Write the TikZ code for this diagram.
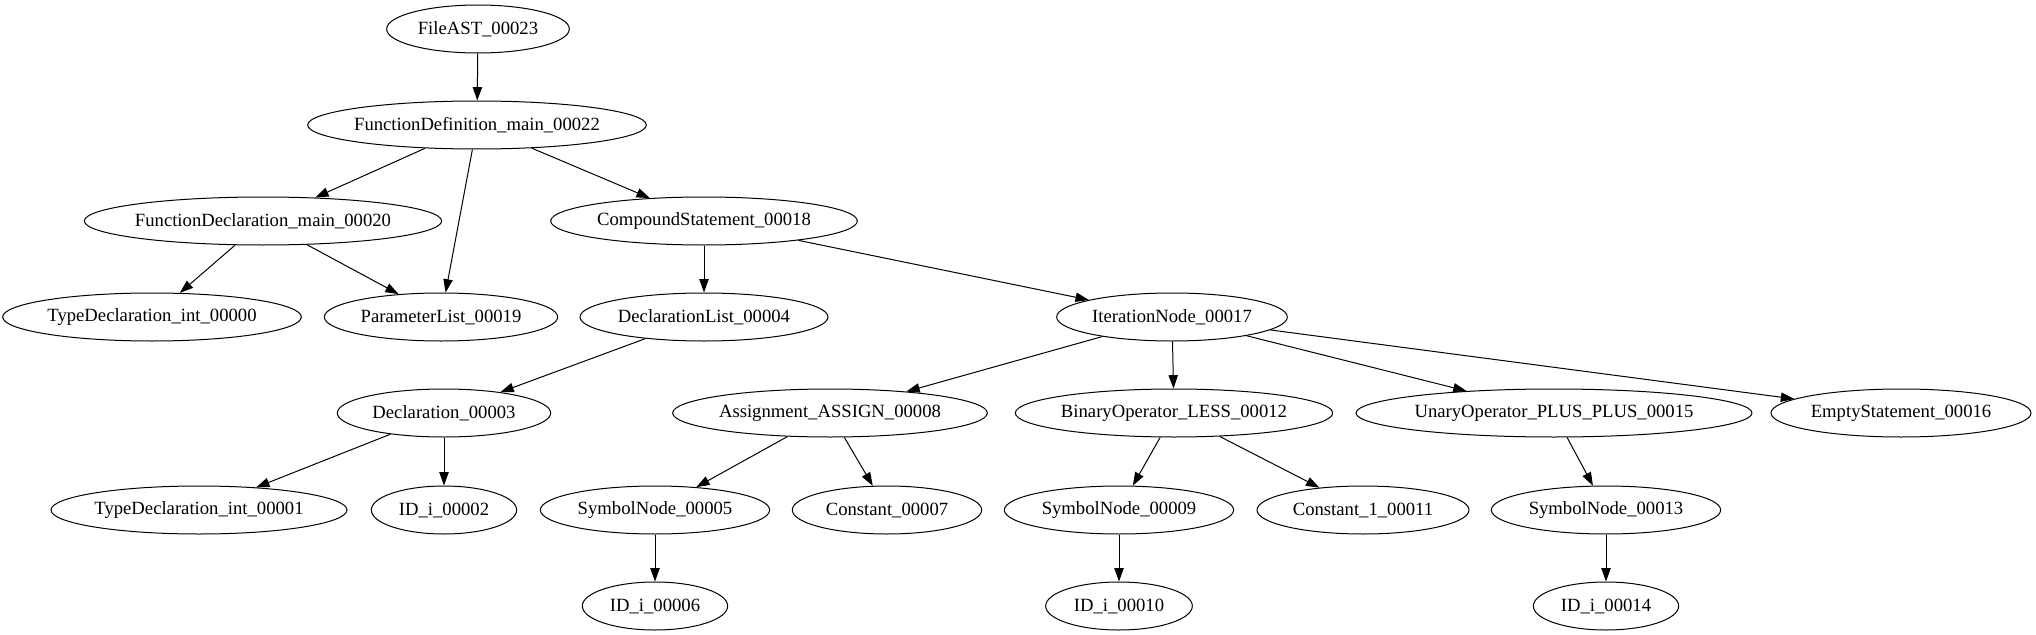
\documentclass[tikz,border=0pt]{standalone}
\usepackage{fontspec}
\setmainfont{Liberation Serif}
\usetikzlibrary{arrows.meta,shapes.geometric}

\begin{document}
\begin{tikzpicture}[x=0.75pt,y=-0.75pt,line width=0.75pt,
	ast_node/.style={ellipse,draw,minimum height=36pt,minimum width=#1,inner sep=0pt,
		font=\fontsize{14}{16}\selectfont,
		execute at begin node={\hbox to 0pt\bgroup\hss},
		execute at end node={\hss\egroup}},
	ast_edge/.style={-{Triangle[length=10pt,width=7pt]}}]
		
		\useasboundingbox (0,0) rectangle (2036,635);
		
		\node[ast_node=137pt] (23) at (478,29) {FileAST\_00023};
		\node[ast_node=254pt] (22) at (477,125) {FunctionDefinition\_main\_00022};
		\node[ast_node=268pt] (20) at (263,221) {FunctionDeclaration\_main\_00020};
		\node[ast_node=230pt] (18) at (704,221) {CompoundStatement\_00018};
		\node[ast_node=224pt] (0) at (152,317) {TypeDeclaration\_int\_00000};
		\node[ast_node=175pt] (19) at (441,317) {ParameterList\_00019};
		\node[ast_node=186pt] (4) at (704,317) {DeclarationList\_00004};
		\node[ast_node=173pt] (17) at (1172,317) {IterationNode\_00017};
		\node[ast_node=160pt] (3) at (444,413) {Declaration\_00003};
		\node[ast_node=236pt] (8) at (830,413) {Assignment\_ASSIGN\_00008};
		\node[ast_node=238pt] (12) at (1174,413) {BinaryOperator\_LESS\_00012};
		\node[ast_node=297pt] (15) at (1554,413) {UnaryOperator\_PLUS\_PLUS\_00015};
		\node[ast_node=195pt] (16) at (1901,413) {EmptyStatement\_00016};
		\node[ast_node=222pt] (1) at (199,510) {TypeDeclaration\_int\_00001};
		\node[ast_node=109pt] (2) at (444,510) {ID\_i\_00002};
		\node[ast_node=172pt] (5) at (655,510) {SymbolNode\_00005};
		\node[ast_node=142pt] (7) at (887,510) {Constant\_00007};
		\node[ast_node=172pt] (9) at (1119,510) {SymbolNode\_00009};
		\node[ast_node=159pt] (11) at (1363,510) {Constant\_1\_00011};
		\node[ast_node=172pt] (13) at (1606,510) {SymbolNode\_00013};
		\node[ast_node=109pt] (6) at (655,606) {ID\_i\_00006};
		\node[ast_node=110pt] (10) at (1119,606) {ID\_i\_00010};
		\node[ast_node=109pt] (14) at (1606,606) {ID\_i\_00014};
		
		\draw[ast_edge] (23) -- (22);
		\draw[ast_edge] (22) -- (20);
		\draw[ast_edge] (22) -- (19);
		\draw[ast_edge] (22) -- (18);
		\draw[ast_edge] (20) -- (0);
		\draw[ast_edge] (20) -- (19);
		\draw[ast_edge] (18) -- (4);
		\draw[ast_edge] (18) -- (17);
		\draw[ast_edge] (4) -- (3);
		\draw[ast_edge] (3) -- (1);
		\draw[ast_edge] (3) -- (2);
		\draw[ast_edge] (17) -- (8);
		\draw[ast_edge] (17) -- (12);
		\draw[ast_edge] (17) -- (15);
		\draw[ast_edge] (17) -- (16);
		\draw[ast_edge] (8) -- (5);
		\draw[ast_edge] (8) -- (7);
		\draw[ast_edge] (5) -- (6);
		\draw[ast_edge] (12) -- (9);
		\draw[ast_edge] (12) -- (11);
		\draw[ast_edge] (9) -- (10);
		\draw[ast_edge] (15) -- (13);
		\draw[ast_edge] (13) -- (14);
		\end{tikzpicture}
\end{document}
